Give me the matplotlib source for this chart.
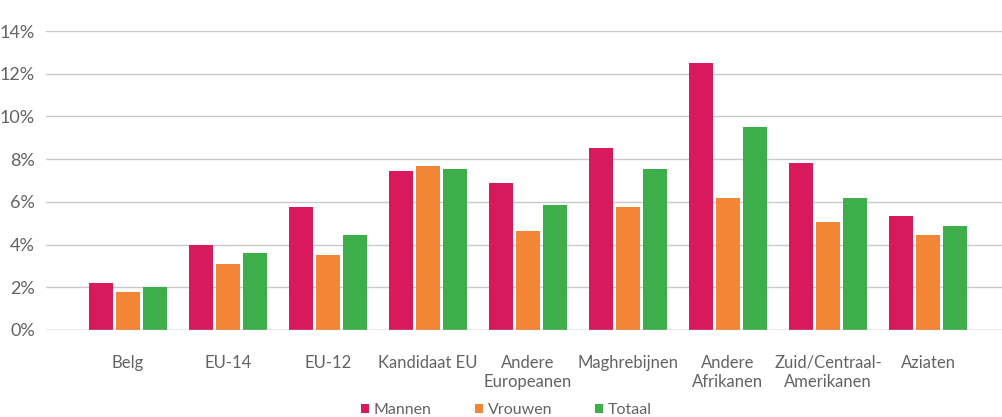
import matplotlib.pyplot as plt
import numpy as np

categories = ['Belg', 'EU-14', 'EU-12', 'Kandidaat EU', 'Andere\nEuropeanen',
              'Maghrebijnen', 'Andere\nAfrikanen', 'Zuid/Centraal-\nAmerikanen', 'Aziaten']
mannen = [2.2, 4.0, 5.75, 7.45, 6.9, 8.5, 12.5, 7.8, 5.35]
vrouwen = [1.8, 3.1, 3.5, 7.7, 4.65, 5.75, 6.2, 5.05, 4.45]
totaal = [2.0, 3.6, 4.45, 7.55, 5.85, 7.55, 9.5, 6.2, 4.85]
series_names = ['Mannen', 'Vrouwen', 'Totaal']
colors = ['#D81A5C', '#F28536', '#3DAE4A']

plt.rcParams['font.family'] = ['Lato', 'DejaVu Sans']
textcol = '#636363'

fig = plt.figure(figsize=(10.03, 4.17), dpi=100)
ax = fig.add_axes([46/1003, 1 - 330/417, 957/1003, 299/417])

x = np.arange(len(categories))
w = 0.24
step = 0.267
for i, vals in enumerate([mannen, vrouwen, totaal]):
    ax.bar(x + (i - 1) * step, vals, width=w, color=colors[i], label=series_names[i], zorder=3)

ax.set_xlim(-0.82, 8.75)
ax.set_ylim(0, 14)
ax.set_yticks(range(0, 15, 2))
ax.set_yticklabels(['{}%'.format(v) for v in range(0, 15, 2)], fontsize=13, color=textcol)
ax.set_xticks(x)
ax.set_xticklabels(categories, fontsize=12, color=textcol, linespacing=1.25, va='top')
ax.tick_params(axis='both', length=0)
ax.tick_params(axis='x', pad=18)
ax.tick_params(axis='y', pad=8)
ax.grid(axis='y', color='#c9c9c9', linewidth=1, zorder=0)
ax.axhline(0, color='#c9c9c9', linewidth=1, zorder=4)
for s in ax.spines.values():
    s.set_visible(False)

leg = fig.legend(loc='lower center', bbox_to_anchor=(0.505, -0.035), ncol=3, frameon=False,
                 handlelength=0.5, handleheight=0.5, handletextpad=0.3, columnspacing=2.7,
                 prop={'size': 11.5})
for t in leg.get_texts():
    t.set_color(textcol)

fig.savefig('out.png', dpi=100)
